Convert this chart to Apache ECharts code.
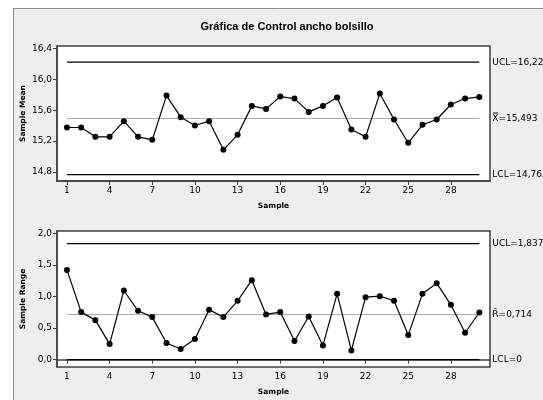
<!DOCTYPE html>
<html><head><meta charset="utf-8">
<script src="https://cdn.jsdelivr.net/npm/echarts@6/dist/echarts.min.js"></script>
<style>html,body{margin:0;padding:0;background:#fff}#c{width:543px;height:400px}</style>
</head><body><div id="c"></div>
<script>
var samples = [1,2,3,4,5,6,7,8,9,10,11,12,13,14,15,16,17,18,19,20,21,22,23,24,25,26,27,28,29,30];
var means = [15.375,15.375,15.254,15.254,15.457,15.254,15.215,15.79,15.509,15.401,15.457,15.085,15.28,15.656,15.617,15.777,15.751,15.578,15.656,15.764,15.349,15.254,15.816,15.479,15.176,15.41,15.479,15.674,15.751,15.773];
var ranges = [1.421,0.753,0.626,0.247,1.095,0.774,0.674,0.263,0.168,0.326,0.789,0.674,0.932,1.258,0.716,0.753,0.295,0.684,0.226,1.042,0.147,0.989,1.005,0.932,0.389,1.042,1.211,0.868,0.426,0.747];
var meanLimits = {UCL:16.224, CL:15.493, LCL:14.763};
var rangeLimits = {UCL:1.837, CL:0.714, LCL:0};
var xTicks = [1,4,7,10,13,16,19,22,25,28];
var meanTicks = [14.8,15.2,15.6,16.0,16.4];
var rangeTicks = [0,0.5,1.0,1.5,2.0];
var title = 'Gráfica de Control ancho bolsillo';

var F = 'DejaVu Sans';
function comma(v){ return String(v).replace('.', ','); }
function tickFmt(v){ return v.toFixed(1).replace('.', ','); }
var first = samples[0], last = samples[samples.length-1];

function xAx(idx){
  return {
    type:'value', gridIndex:idx, min:0.3, max:30.75,
    name:'Sample', nameLocation:'middle', nameGap:21,
    nameTextStyle:{fontFamily:F, fontSize:7.5, fontWeight:'bold', color:'#000'},
    axisLine:{show:true, lineStyle:{color:'#404040', width:1.5}},
    axisTick:{show:true, length:4, customValues:xTicks, lineStyle:{color:'#404040', width:1}},
    axisLabel:{customValues:xTicks, fontFamily:F, fontSize:9, color:'#000', margin:5},
    splitLine:{show:false}
  };
}
function yAx(idx, min, max, ticks, name){
  return {
    type:'value', gridIndex:idx, min:min, max:max,
    name:name, nameLocation:'middle', nameGap:30, nameRotate:90, nameMoveOverlap:false,
    nameTextStyle:{fontFamily:F, fontSize:7.5, fontWeight:'bold', color:'#000'},
    axisLine:{show:true, lineStyle:{color:'#404040', width:1.5}},
    axisTick:{show:true, length:4, customValues:ticks, lineStyle:{color:'#404040', width:1}},
    axisLabel:{customValues:ticks, formatter:tickFmt, fontFamily:F, fontSize:9, color:'#000', margin:5},
    splitLine:{show:false}
  };
}
function limitSeries(idx, value, label, color, width){
  return {
    type:'line', xAxisIndex:idx, yAxisIndex:idx, data:[[first,value],[last,value]],
    symbol:'none', clip:false, silent:true,
    lineStyle:{color:color, width:width},
    endLabel:{show:true, formatter:label, distance:13, fontFamily:F, fontSize:9, color:'#000'}
  };
}
function dataSeries(idx, vals){
  return {
    type:'line', xAxisIndex:idx, yAxisIndex:idx,
    data:samples.map(function(s,i){return [s, vals[i]];}),
    symbol:'circle', symbolSize:6, clip:false,
    itemStyle:{color:'#000'}, lineStyle:{color:'#000', width:1.2}
  };
}

var chart = echarts.init(document.getElementById('c'), null, {renderer:'canvas'});
chart.setOption({
  animation:false,
  backgroundColor:'#fff',
  graphic:[{type:'rect', z:-10, shape:{x:13.5, y:8.5, width:545, height:400},
            style:{fill:'#eeeeee', stroke:'#8a8a8a', lineWidth:1}}],
  title:{text:title, left:282, top:16, textAlign:'center',
         textStyle:{fontFamily:'Liberation Sans', fontSize:11, fontWeight:'bold', color:'#000'}},
  grid:[
    {left:57, top:46, width:433, height:135, show:true, backgroundColor:'#fff', borderColor:'#404040', borderWidth:1.5},
    {left:57, top:231, width:433, height:136, show:true, backgroundColor:'#fff', borderColor:'#404040', borderWidth:1.5}
  ],
  xAxis:[xAx(0), xAx(1)],
  yAxis:[yAx(0, 14.68, 16.434, meanTicks, 'Sample Mean'), yAx(1, -0.116, 2.037, rangeTicks, 'Sample Range')],
  series:[
    limitSeries(0, meanLimits.UCL, 'UCL=' + comma(meanLimits.UCL), '#000', 1.3),
    limitSeries(0, meanLimits.CL, 'X\u033F=' + comma(meanLimits.CL), '#a8a8a8', 1),
    limitSeries(0, meanLimits.LCL, 'LCL=' + comma(meanLimits.LCL), '#000', 1.3),
    dataSeries(0, means),
    limitSeries(1, rangeLimits.UCL, 'UCL=' + comma(rangeLimits.UCL), '#000', 1.3),
    limitSeries(1, rangeLimits.CL, 'R\u0304=' + comma(rangeLimits.CL), '#a8a8a8', 1),
    limitSeries(1, rangeLimits.LCL, 'LCL=' + comma(rangeLimits.LCL), '#000', 1.3),
    dataSeries(1, ranges)
  ]
});
</script></body></html>
